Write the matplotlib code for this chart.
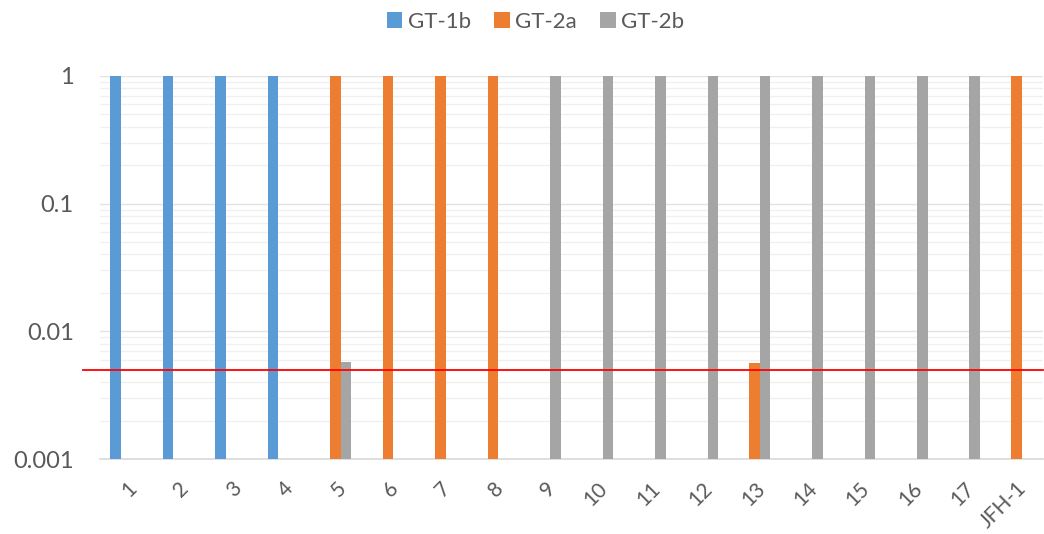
import matplotlib.pyplot as plt
import numpy as np

plt.rcParams['font.family'] = ['Lato', 'DejaVu Sans']

categories = [str(i) for i in range(1, 18)] + ['JFH-1']
nan = np.nan
gt1b = [1, 1, 1, 1] + [nan] * 14
gt2a = [nan, nan, nan, nan, 1, 1, 1, 1, nan, nan, nan, nan, 0.0057, nan, nan, nan, nan, 1]
gt2b = [nan, nan, nan, nan, 0.0058, nan, nan, nan, 1, 1, 1, 1, 1, 1, 1, 1, 1, nan]
cutoff = 0.005

series = [('GT-1b', gt1b, '#5b9bd5'), ('GT-2a', gt2a, '#ed7d31'), ('GT-2b', gt2b, '#a5a5a5')]

fig = plt.figure(figsize=(10.44, 5.34), dpi=100)
ax = fig.add_axes([0.0958, 0.1404, 0.903, 0.7173])

x = np.arange(len(categories))
w = 0.2
for k, (name, vals, col) in enumerate(series):
    ax.bar(x + (k - 1) * w, vals, w, color=col, label=name, zorder=3)

ax.set_yscale('log')
ax.set_ylim(0.001, 1)
ax.set_xlim(-0.5, len(categories) - 0.5)

ax.set_yticks([0.001, 0.01, 0.1, 1])
ax.set_yticklabels(['0.001', '0.01', '0.1', '1'])
ax.grid(True, which='major', axis='y', color='#e3e3e3', lw=1, zorder=0)
ax.grid(True, which='minor', axis='y', color='#f0f0f0', lw=1, zorder=0)
ax.tick_params(axis='y', which='both', length=0, labelsize=17, labelcolor='#595959', pad=19)

ax.set_xticks(x)
ax.set_xticklabels(categories, rotation=45, ha='right', rotation_mode='anchor')
ax.tick_params(axis='x', length=0, labelsize=15, labelcolor='#595959', pad=14)

for s in ['top', 'right', 'left']:
    ax.spines[s].set_visible(False)
ax.spines['bottom'].set_color('#d9d9d9')
ax.spines['bottom'].set_linewidth(1.2)

trans = ax.get_yaxis_transform()
ax.plot([-0.018, 1.0], [cutoff, cutoff], color='#ff0000', lw=1.3, transform=trans,
        clip_on=False, zorder=4)

fig.legend(loc='center', bbox_to_anchor=(0.513, 0.959), ncol=3, frameon=False,
           fontsize=16, handlelength=0.7, handleheight=0.7, handletextpad=0.25,
           columnspacing=1.05, labelcolor='#595959')

plt.savefig('out.png', dpi=100)
